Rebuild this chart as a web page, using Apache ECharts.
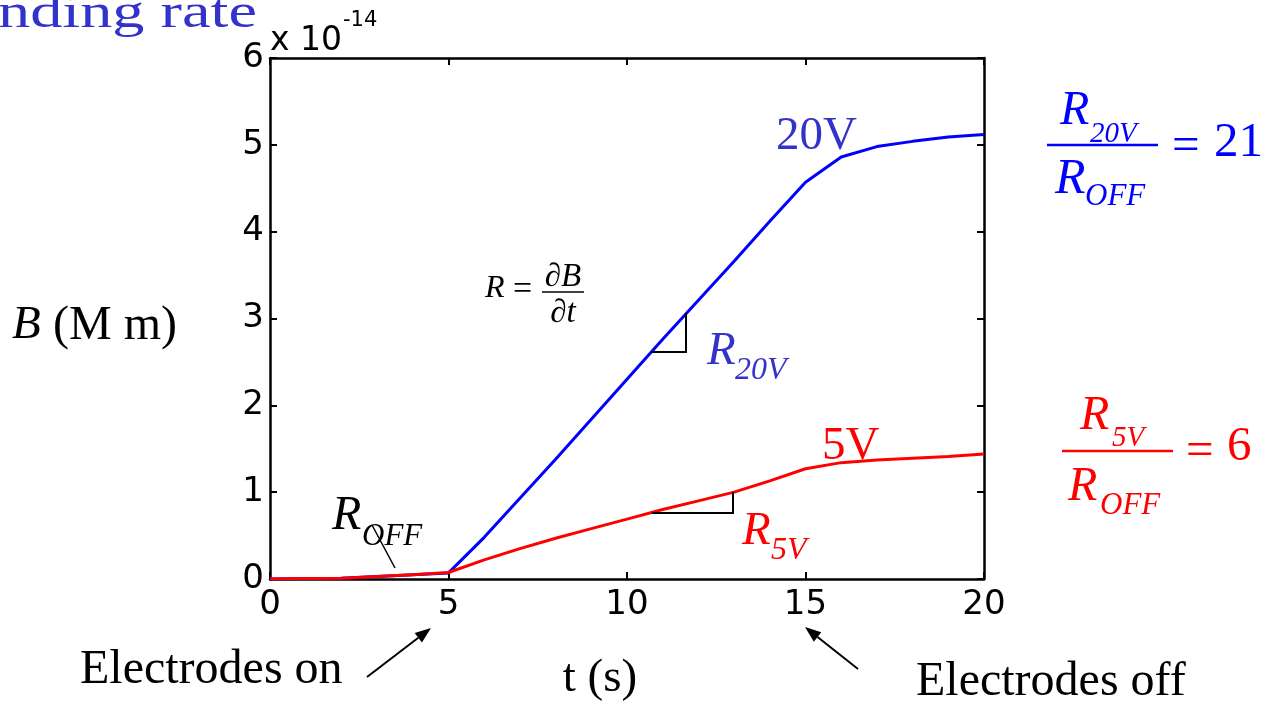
<!DOCTYPE html>
<html><head><meta charset="utf-8">
<script src="https://cdn.jsdelivr.net/npm/echarts@6/dist/echarts.min.js"></script>
<style>html,body{margin:0;padding:0;background:#fff;overflow:hidden}#c{width:1266px;height:705px}</style>
</head><body><div id="c"></div>
<script>
// ---- data ----
const times = [0,1,2,3,4,5,6,7,8,9,10,11,12,13,14,15,16,17,18,19,20];
const b20V  = [0,0.005,0.01,0.03,0.05,0.07,0.48,0.93,1.38,1.84,2.30,2.76,3.21,3.66,4.12,4.57,4.86,4.98,5.04,5.09,5.12];
const b5V   = [0,0.005,0.01,0.03,0.05,0.075,0.22,0.35,0.47,0.58,0.69,0.80,0.90,1.00,1.13,1.27,1.34,1.37,1.39,1.41,1.44];
const xTickLabels = ['0','5','10','15','20'];
const yTickLabels = ['0','1','2','3','4','5','6'];

const chart = echarts.init(document.getElementById('c'), null, {renderer:'canvas'});
const pairs = (ys) => times.map((t,i)=>[t, ys[i]]);

const SERIF = '"Liberation Serif","Times New Roman",serif';
const SANS = '"DejaVu Sans",sans-serif';
const BLUE_TXT = '#3333CC';

function txt(text, x, y, size, opts) {
  opts = opts || {};
  return {
    type:'text', x:x, y:y, scaleX: opts.scaleX || 1, z: 10,
    style:{ text:text, x:0, y:0, fontSize:size, fontFamily: opts.family || SERIF,
      fontStyle: opts.italic ? 'italic' : 'normal', fill: opts.color || '#000',
      align: opts.align || 'left', verticalAlign:'middle' }
  };
}
function seg(pts, color, w) {
  return { type:'polyline', z: 10, shape:{points:pts}, style:{stroke:color||'#000', lineWidth:w||2, fill:null} };
}
function arrow(x1,y1,x2,y2) {
  const dx=x2-x1, dy=y2-y1, L=Math.hypot(dx,dy), ux=dx/L, uy=dy/L, nx=-uy, ny=ux;
  const hl=16, hw=6, bx=x2-hl*ux, by=y2-hl*uy;
  return [
    seg([[x1,y1],[bx,by]], '#000', 2),
    { type:'polygon', z:10, shape:{points:[[x2,y2],[bx+hw*nx,by+hw*ny],[bx-hw*nx,by-hw*ny]]}, style:{fill:'#000'} }
  ];
}

const axisCommon = {
  axisLine:{show:true, onZero:false, lineStyle:{color:'#000', width:2.5}},
  axisTick:{show:true, inside:true, length:7, lineStyle:{color:'#000', width:2}},
  splitLine:{show:false}
};

const option = {
  animation:false,
  backgroundColor:'#fff',
  grid:{left:270, right:282, top:58, bottom:126, containLabel:false},
  xAxis:[
    Object.assign({type:'value', min:0, max:20, interval:5, position:'bottom',
      axisLabel:{show:true, margin:9, fontSize:34, fontFamily:SANS, color:'#000',
        formatter:(v)=>xTickLabels[Math.round(v/5)]}}, axisCommon),
    Object.assign({type:'value', min:0, max:20, interval:5, position:'top', axisLabel:{show:false}}, axisCommon)
  ],
  yAxis:[
    Object.assign({type:'value', min:0, max:6, interval:1, position:'left',
      axisLabel:{show:true, margin:6, fontSize:34, fontFamily:SANS, color:'#000',
        formatter:(v)=>yTickLabels[Math.round(v)]}}, axisCommon),
    Object.assign({type:'value', min:0, max:6, interval:1, position:'right', axisLabel:{show:false}}, axisCommon)
  ],
  series:[
    {type:'line', name:'20V', data:pairs(b20V), showSymbol:false, symbol:'none',
      lineStyle:{color:'#0000FF', width:3}, itemStyle:{color:'#0000FF'}, z:3},
    {type:'line', name:'5V', data:pairs(b5V), showSymbol:false, symbol:'none',
      lineStyle:{color:'#FF0000', width:3}, itemStyle:{color:'#FF0000'}, z:4}
  ],
  graphic:[].concat(
    [
      txt('nding rate', -2, 14, 48, {color:BLUE_TXT, scaleX:1.34}),
      txt('electrodes', 803, -19, 48, {scaleX:1.25}),
      txt('x 10', 270, 41, 33, {family:SANS}),
      txt('-14', 343, 21, 21, {family:SANS}),
      txt('B', 12, 326, 47, {italic:true}),
      txt(' (M m)', 41, 326, 48),
      txt('t (s)', 600, 679, 47, {align:'center'}),
      txt('Electrodes on', 80, 670, 48),
      txt('Electrodes off', 916, 682, 48),
      txt('20V', 776, 137, 47, {color:BLUE_TXT}),
      txt('5V', 822, 447, 47, {color:'#FF0000'}),
      txt('R', 707, 352, 47, {italic:true, color:BLUE_TXT}),
      txt('20V', 735, 371, 32, {italic:true, color:BLUE_TXT}),
      txt('R', 742, 532, 47, {italic:true, color:'#FF0000'}),
      txt('5V', 771, 551, 32, {italic:true, color:'#FF0000'}),
      txt('R', 332, 516, 48, {italic:true}),
      txt('OFF', 362, 537, 31, {italic:true}),
      // R = dB/dt
      txt('R', 485, 289, 32, {italic:true}),
      txt('=', 513, 290, 34),
      txt('\u2202B', 563, 277, 33, {align:'center', italic:true}),
      txt('\u2202t', 563, 313, 33, {align:'center', italic:true}),
      seg([[542,292],[584,292]], '#000', 1.5),
      // right blue fraction
      txt('R', 1060, 111, 48, {italic:true, color:'#0000FF'}),
      txt('20V', 1090, 134, 29, {italic:true, color:'#0000FF'}),
      seg([[1047,145],[1158,145]], '#0000FF', 2.5),
      txt('R', 1055, 180, 50, {italic:true, color:'#0000FF'}),
      txt('OFF', 1085, 197, 31, {italic:true, color:'#0000FF'}),
      txt('=', 1172, 147, 49, {color:'#0000FF'}),
      txt('21', 1214, 143, 49, {color:'#0000FF'}),
      // right red fraction
      txt('R', 1080, 416, 48, {italic:true, color:'#FF0000'}),
      txt('5V', 1112, 438, 29, {italic:true, color:'#FF0000'}),
      seg([[1062,451],[1173,451]], '#FF0000', 2.5),
      txt('R', 1068, 487, 48, {italic:true, color:'#FF0000'}),
      txt('OFF', 1100, 506, 31, {italic:true, color:'#FF0000'}),
      txt('=', 1186, 452, 49, {color:'#FF0000'}),
      txt('6', 1227, 447, 49, {color:'#FF0000'}),
      // slope markers
      seg([[372,525],[395,568]], '#000', 1.5),
      seg([[651,352],[686,352],[686,313]], '#000', 2),
      seg([[652,513],[733,513],[733,492]], '#000', 2)
    ],
    arrow(367,677,431,628),
    arrow(858,669,805,627)
  )
};
chart.setOption(option);
</script>
</body></html>
